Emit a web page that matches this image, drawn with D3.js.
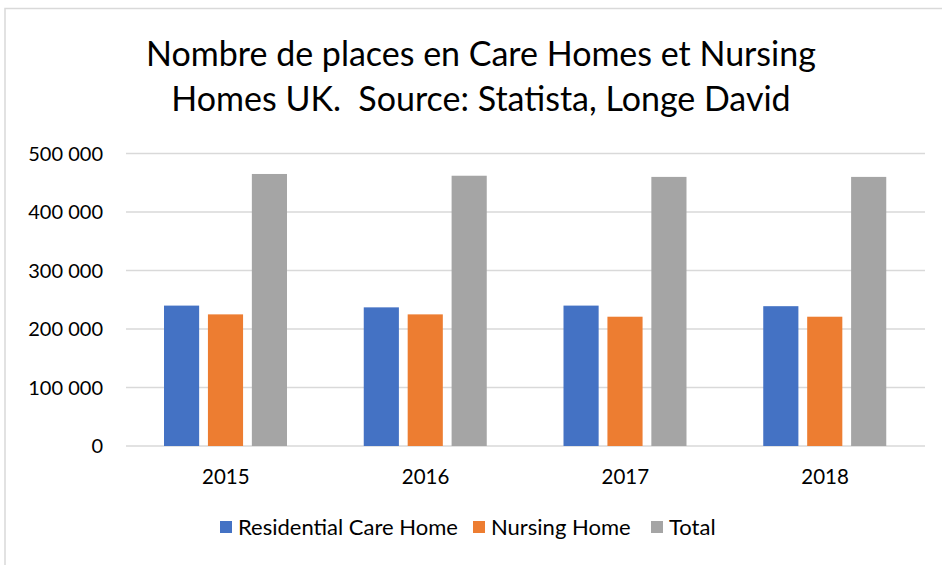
<!DOCTYPE html>
<style>
body { margin: 0; background: #fff; }
text { font-family: Lato, "Open Sans", sans-serif; fill: #000; }
.grid line { stroke: #d9d9d9; stroke-width: 1.5px; }
</style>
<svg width="942" height="565"></svg>
<script src="https://d3js.org/d3.v7.min.js"></script>
<script>
// places en care homes / nursing homes (UK)
var years = ["2015", "2016", "2017", "2018"];
var seriesNames = ["Residential Care Home", "Nursing Home", "Total"];
var residential = [240000, 237000, 240000, 239000];
var nursing = [225000, 225000, 221000, 221000];
var total = [465000, 462000, 460000, 460000];
var yTicks = [0, 100000, 200000, 300000, 400000, 500000];
var colors = ["#4472c4", "#ed7d31", "#a5a5a5"];

var svg = d3.select("svg");

// chart frame
svg.append("path")
    .attr("d", "M5,565 L5,8.5 L942,8.5")
    .attr("fill", "none")
    .attr("stroke", "#d9d9d9")
    .attr("stroke-width", 1.5);

svg.append("text")
    .attr("x", 481).attr("y", 66)
    .attr("text-anchor", "middle")
    .style("font-size", "34px")
    .text("Nombre de places en Care Homes et Nursing");
svg.append("text")
    .attr("x", 481).attr("y", 111)
    .attr("text-anchor", "middle")
    .style("font-size", "34px")
    .style("white-space", "pre")
    .text("Homes UK.  Source: Statista, Longe David");

var x0 = d3.scaleBand().domain(years).range([126, 925]);
var x1 = d3.scaleBand().domain(seriesNames).range([38, 161]).paddingInner(0.2);
var y = d3.scaleLinear().domain([0, 500000]).range([446, 153.5]);

var fmt = function(d) { return d3.format(",")(d).replace(/,/g, " "); };

svg.append("g")
    .attr("class", "grid")
    .selectAll("line")
    .data(yTicks)
    .enter().append("line")
    .attr("x1", 126).attr("x2", 925)
    .attr("y1", function(d) { return y(d); })
    .attr("y2", function(d) { return y(d); });

svg.append("g")
    .selectAll("text")
    .data(yTicks)
    .enter().append("text")
    .attr("x", 103)
    .attr("y", function(d) { return y(d); })
    .attr("dy", "0.35em")
    .attr("text-anchor", "end")
    .style("font-size", "20px")
    .text(fmt);

var rows = [];
years.forEach(function(yr, i) {
  rows.push({ year: yr, key: seriesNames[0], value: residential[i] });
  rows.push({ year: yr, key: seriesNames[1], value: nursing[i] });
  rows.push({ year: yr, key: seriesNames[2], value: total[i] });
});

svg.append("g")
    .selectAll("rect")
    .data(rows)
    .enter().append("rect")
    .attr("x", function(d) { return x0(d.year) + x1(d.key); })
    .attr("width", x1.bandwidth())
    .attr("y", function(d) { return y(d.value); })
    .attr("height", function(d) { return y(0) - y(d.value); })
    .attr("fill", function(d) { return colors[seriesNames.indexOf(d.key)]; });

svg.append("g")
    .selectAll("text")
    .data(years)
    .enter().append("text")
    .attr("x", function(d) { return x0(d) + x0.bandwidth() / 2; })
    .attr("y", 484)
    .attr("text-anchor", "middle")
    .style("font-size", "20.5px")
    .text(function(d) { return d; });

// legend
var legendX = [220, 473, 651];
var lg = svg.append("g")
    .selectAll("g")
    .data(seriesNames)
    .enter().append("g")
    .attr("transform", function(d, i) { return "translate(" + legendX[i] + ",521)"; });
lg.append("rect").attr("width", 12).attr("height", 12)
    .attr("fill", function(d, i) { return colors[i]; });
lg.append("text").attr("x", 18).attr("y", 6).attr("dy", "0.35em")
    .style("font-size", "22px")
    .text(function(d) { return d; });
</script>
